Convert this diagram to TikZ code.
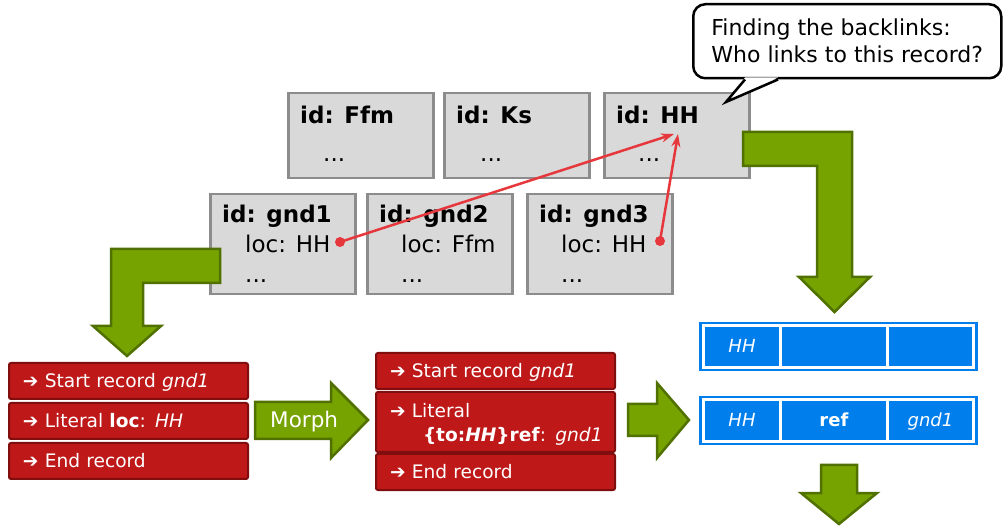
\documentclass[tikz,border=0pt]{standalone}
\usepackage{fontspec}
\setmainfont{DejaVu Sans}
\usetikzlibrary{arrows.meta}

\definecolor{recgrey}{RGB}{217,217,217}
\definecolor{recedge}{RGB}{140,140,140}
\definecolor{evred}{RGB}{190,24,24}
\definecolor{evedge}{RGB}{128,14,14}
\definecolor{flowgreen}{RGB}{119,163,0}
\definecolor{flowedge}{RGB}{80,112,0}
\definecolor{linkred}{RGB}{230,56,60}
\definecolor{rowblue}{RGB}{0,126,236}

\begin{document}
\begin{tikzpicture}[x=1pt,y=-1pt,
    record/.style={draw=recedge, fill=recgrey, line width=2.5pt, anchor=north west, minimum width=145pt},
    rectext/.style={anchor=base west, inner sep=0pt, font=\fontsize{23}{27}\selectfont},
    event/.style={draw=evedge, fill=evred, line width=2pt, rounded corners=2pt, anchor=north west,
        text=white, text width=211pt, inner xsep=14pt, inner ysep=0pt, align=left,
        font=\fontsize{18.6}{24}\selectfont},
    oneline/.style={event, minimum height=36pt, text height=13pt, text depth=0pt},
    flow/.style={draw=flowedge, fill=flowgreen, line width=2.5pt, line join=miter},
    link/.style={draw=linkred, line width=2.5pt, -{Stealth[length=13pt,width=9pt]}},
    linkdot/.style={circle, fill=linkred, inner sep=0pt, minimum size=10pt},
    rowframe/.style={fill=rowblue, inner sep=0pt, minimum width=279pt, minimum height=49pt},
    cell/.style={fill=rowblue, draw=white, line width=3pt, inner sep=0pt, minimum height=42pt,
        text=white, text height=13pt, text depth=0pt, font=\fontsize{18}{22}\selectfont},
    bubble/.style={draw=black, fill=white, line width=2.5pt, rounded corners=12pt, align=left,
        anchor=north west, font=\fontsize{22}{27}\selectfont}]
    \useasboundingbox (0,0) rectangle (1005,529);

    %% the records in the store
    \node[record, minimum height=85pt] (ffm) at (287,92) {};
    \node[record, minimum height=85pt] (ks) at (443,92) {};
    \node[record, minimum height=85pt] (hh) at (603,92) {};
    \node[rectext] (ffm-id) at (300,124) {\textbf{id: Ffm}};
    \node[rectext] (ffm-more) at (323,162) {...};
    \node[rectext] (ks-id) at (456,124) {\textbf{id: Ks}};
    \node[rectext] (ks-more) at (480,162) {...};
    \node[rectext] (hh-id) at (616,124) {\textbf{id: HH}};
    \node[rectext] (hh-more) at (638,162) {...};

    \node[record, minimum height=100pt] (gnd1) at (209,193) {};
    \node[record, minimum height=100pt] (gnd2) at (366,193) {};
    \node[record, minimum height=100pt] (gnd3) at (526,193) {};
    \node[rectext] (gnd1-id) at (222,223) {\textbf{id: gnd1}};
    \node[rectext] (gnd1-loc) at (245,253) {loc: HH};
    \node[rectext] (gnd1-more) at (245,283) {...};
    \node[rectext] (gnd2-id) at (379,223) {\textbf{id: gnd2}};
    \node[rectext] (gnd2-loc) at (401,253) {loc: Ffm};
    \node[rectext] (gnd2-more) at (401,283) {...};
    \node[rectext] (gnd3-id) at (539,223) {\textbf{id: gnd3}};
    \node[rectext] (gnd3-loc) at (561,253) {loc: HH};
    \node[rectext] (gnd3-more) at (561,283) {...};

    %% backlinks
    \node[linkdot] (dot1) at (340,242) {};
    \node[linkdot] (dot3) at (660,241) {};
    \coordinate (hhA) at (674,134);
    \coordinate (hhB) at (678,134);
    \draw[link] (dot1.center) -- (hhA);
    \draw[link] (dot3.center) -- (hhB);

    \node[bubble, minimum width=308pt, minimum height=74pt] (note) at (692,3)
        {Finding the backlinks:\\Who links to this record?};
    \coordinate (tip) at (726,102);
    \fill[white] ([xshift=53pt,yshift=2pt]note.south west) -- (tip) -- ([xshift=86pt,yshift=2pt]note.south west) -- cycle;
    \draw[line width=2.5pt, line join=miter] ([xshift=53pt]note.south west) -- (tip) -- ([xshift=86pt]note.south west);

    %% green flow arrows
    \draw[flow] (743,132) -- (852,132) -- (852,277) -- (870,277) -- (834.5,312) -- (799,277)
        -- (817,277) -- (817,166) -- (743,166) -- cycle;
    \draw[flow] (220,249) -- (220,283) -- (143,283) -- (143,326) -- (161,326) -- (127,356)
        -- (93,326) -- (111,326) -- (111,249) -- cycle;
    \draw[flow] (255,402) -- (331,402) -- (331,383) -- (368,420) -- (331,458) -- (331,439)
        -- (255,439) -- cycle;
    \node[anchor=base west, inner sep=0pt, text=white, font=\fontsize{21.5}{25}\selectfont] (morph) at (270,428) {Morph};
    \draw[flow] (628,404) -- (657,404) -- (657,383) -- (689,420) -- (657,458) -- (657,436)
        -- (628,436) -- cycle;
    \draw[flow] (821,465) -- (857,465) -- (857,493) -- (877,493) -- (839,524) -- (801,493)
        -- (821,493) -- cycle;

    %% events before and after the morph
    \node[oneline] (ev1) at (8,362) {➔ Start record \textit{gnd1}};
    \node[oneline] (ev2) at (8,402) {➔ Literal \textbf{loc}: \textit{HH}};
    \node[oneline] (ev3) at (8,442) {➔ End record};
    \node[oneline] (out1) at (375,352) {➔ Start record \textit{gnd1}};
    \node[event, minimum height=60pt, text height=18pt] (out2) at (375,391)
        {➔ Literal\\\mbox{\hspace*{33pt}\textbf{\{to:\textit{HH}\}ref}: \textit{gnd1}}};
    \node[oneline] (out3) at (375,453) {➔ End record};

    %% index rows
    \node[rowframe] (row1) at (838.5,346.5) {};
    \node[cell, minimum width=77pt] (row1-a) at (742,346.5) {\textit{HH}};
    \node[cell, minimum width=107pt] (row1-b) at (834,346.5) {};
    \node[cell, minimum width=86pt] (row1-c) at (930.5,346.5) {};
    \node[rowframe] (row2) at (838.5,420.5) {};
    \node[cell, minimum width=77pt] (row2-a) at (742,420.5) {\textit{HH}};
    \node[cell, minimum width=107pt] (row2-b) at (834,420.5) {\textbf{ref}};
    \node[cell, minimum width=86pt] (row2-c) at (930.5,420.5) {\textit{gnd1}};
\end{tikzpicture}
\end{document}
